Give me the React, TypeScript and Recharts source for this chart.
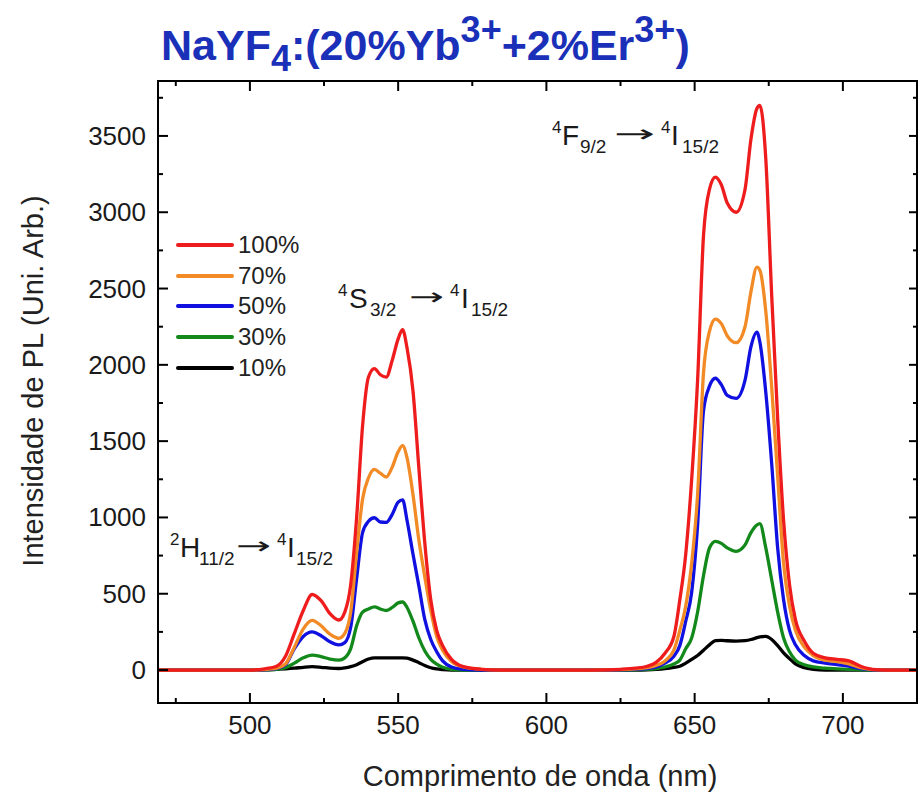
import { LineChart, Line, XAxis, YAxis, Legend } from "recharts"

const FONT = "'Liberation Sans', Arial, sans-serif"

// wavelength (nm)
const wavelength = [
  469, 480, 490, 500, 505, 509, 512, 515, 518, 521,
  524, 527, 530, 532, 534, 536, 538, 540, 542, 544,
  546, 548, 550, 551.5, 553, 555, 557, 559, 561, 563,
  565, 568, 572, 578, 585, 595, 605, 615, 625, 630,
  634, 637, 640, 643, 645, 647, 649, 651, 653, 655,
  657, 659, 661, 664, 667, 669, 671, 672, 674, 676,
  678, 680, 682, 684, 687, 690, 694, 698, 702, 706,
  710, 715, 725,
]

const pl100 = [
  0, 0, 0, 0, 8, 25, 90, 240, 390, 495,
  455, 370, 328, 380, 560, 1000, 1600, 1920, 1975, 1935,
  1920, 2030, 2170, 2230, 2110, 1830, 1320, 830, 460, 260,
  160, 70, 22, 5, 0, 0, 0, 0, 5, 12,
  25, 50, 110, 220, 460, 760, 1250, 1900, 2850, 3150,
  3230, 3180, 3060, 3000, 3150, 3480, 3680, 3700, 3350, 2450,
  1650, 980, 560, 330, 190, 110, 80, 70, 60, 25,
  5, 0, 0,
]

const pl70 = [
  0, 0, 0, 0, 3, 12, 40, 150, 270, 325,
  290, 235, 208, 240, 380, 770, 1120, 1260, 1315, 1290,
  1265, 1330, 1430, 1470, 1390, 1150, 850, 610, 390, 220,
  130, 55, 20, 5, 0, 0, 0, 0, 3, 8,
  15, 30, 60, 130, 260, 420, 700, 1150, 1950, 2220,
  2300, 2270, 2190, 2145, 2250, 2480, 2640, 2620, 2350, 1850,
  1270, 700, 420, 260, 150, 95, 65, 55, 40, 15,
  3, 0, 0,
]

const pl50 = [
  0, 0, 0, 0, 2, 10, 35, 140, 220, 250,
  225, 185, 165, 180, 280, 600, 900, 975, 998, 970,
  968, 1020, 1100, 1115, 980, 760, 550, 330, 200, 120,
  60, 20, 5, 0, 0, 0, 0, 0, 2, 5,
  10, 20, 45, 90, 160, 320, 510, 950, 1700, 1860,
  1912, 1870, 1800, 1780, 1900, 2120, 2215, 2150, 1820, 1350,
  800, 460, 260, 165, 95, 60, 45, 35, 25, 10,
  2, 0, 0,
]

const pl30 = [
  0, 0, 0, 0, 1, 5, 15, 45, 80, 98,
  88, 72, 65, 80, 140, 290, 380, 400, 414, 400,
  390, 410, 440, 446, 410, 320, 210, 125, 70, 38,
  18, 5, 0, 0, 0, 0, 0, 0, 0, 2,
  5, 10, 20, 40, 65, 140, 210, 380, 620, 800,
  843, 830, 800, 778, 820, 900, 950, 960, 800, 590,
  380, 210, 120, 65, 35, 20, 12, 8, 5, 2,
  0, 0, 0,
]

const pl10 = [
  0, 0, 0, 0, 2, 5, 8, 12, 18, 22,
  18, 12, 10, 14, 22, 35, 55, 72, 80, 80,
  80, 80, 80, 80, 78, 65, 48, 30, 15, 7,
  3, 0, 0, 0, 0, 0, 0, 0, 0, 0,
  2, 5, 10, 18, 25, 45, 70, 95, 130, 165,
  192, 195, 192, 190, 193, 200, 212, 218, 220, 200,
  160, 112, 75, 40, 15, 5, 0, 0, 0, 0,
  0, 0, 0,
]

const xTicks = [475, 500, 525, 550, 575, 600, 625, 650, 675, 700, 725]
const yTicks = [0, 250, 500, 750, 1000, 1250, 1500, 1750, 2000, 2250, 2500, 2750, 3000, 3250, 3500, 3750]

// legend order (top to bottom)
const series = [
  { key: "pl100", name: "100%", color: "#ee1c1c" },
  { key: "pl70", name: "70%", color: "#f28a26" },
  { key: "pl50", name: "50%", color: "#1010e0" },
  { key: "pl30", name: "30%", color: "#12891a" },
  { key: "pl10", name: "10%", color: "#000000" },
]

const data = wavelength.map((w, i) => ({
  w,
  pl100: pl100[i],
  pl70: pl70[i],
  pl50: pl50[i],
  pl30: pl30[i],
  pl10: pl10[i],
}))

function BottomTick({ x, y, payload }: any) {
  const major = payload.value % 50 === 0
  return (
    <g>
      <line x1={x} y1={y} x2={x} y2={y - (major ? 10 : 5)} stroke="#000" strokeWidth={2} />
      {major && (
        <text x={x} y={y + 31} textAnchor="middle" fontSize={26} fill="#1a1a1a" fontFamily={FONT}>
          {payload.value}
        </text>
      )}
    </g>
  )
}

function TopTick({ x, y, payload }: any) {
  const major = payload.value % 50 === 0
  return <line x1={x} y1={y} x2={x} y2={y + (major ? 10 : 5)} stroke="#000" strokeWidth={2} />
}

function LeftTick({ x, y, payload }: any) {
  const major = payload.value % 500 === 0
  return (
    <g>
      <line x1={x} y1={y} x2={x + (major ? 10 : 5)} y2={y} stroke="#000" strokeWidth={2} />
      {major && (
        <text x={x - 12} y={y + 9} textAnchor="end" fontSize={26} fill="#1a1a1a" fontFamily={FONT}>
          {payload.value}
        </text>
      )}
    </g>
  )
}

function RightTick({ x, y, payload }: any) {
  const major = payload.value % 500 === 0
  return <line x1={x} y1={y} x2={x - (major ? 8 : 4)} y2={y} stroke="#000" strokeWidth={2} />
}

function LegendBox() {
  return (
    <div style={{ fontFamily: FONT, fontSize: 24, color: "#222" }}>
      {series.map((s) => (
        <div key={s.key} style={{ display: "flex", alignItems: "center", height: 30.6 }}>
          <svg width={58} height={6} style={{ display: "block" }}>
            <line x1={2} y1={3} x2={56} y2={3} stroke={s.color} strokeWidth={4} strokeLinecap="round" />
          </svg>
          <span style={{ marginLeft: 4, lineHeight: "24px" }}>{s.name}</span>
        </div>
      ))}
    </div>
  )
}

const axisLine = { stroke: "#000", strokeWidth: 2, strokeLinecap: "square" as const }

// transition label: superscript, letter, subscript, arrow, superscript, letter, subscript
function Transition({ x, y, parts }: { x: number[]; y: number; parts: string[] }) {
  return (
    <g fill="#1a1a1a">
      <text fontSize={17} x={x[0]} y={y - 12}>{parts[0]}</text>
      <text fontSize={28} x={x[1]} y={y}>{parts[1]}</text>
      <text fontSize={19} x={x[2]} y={y + 8}>{parts[2]}</text>
      <text
        fontSize={24}
        fontFamily="'DejaVu Sans', sans-serif"
        x={x[3]}
        y={y - 3}
        textLength={x[4] - x[3] - 6}
        lengthAdjust="spacingAndGlyphs"
      >
        →
      </text>
      <text fontSize={17} x={x[4]} y={y - 12}>{parts[3]}</text>
      <text fontSize={28} x={x[5]} y={y}>{parts[4]}</text>
      <text fontSize={19} x={x[6]} y={y + 8}>{parts[5]}</text>
    </g>
  )
}

export default function App() {
  return (
    <div style={{ position: "absolute", left: 0, top: 0, width: 922, height: 792, background: "#fff" }}>
      <LineChart width={922} height={792} data={data} margin={{ top: 80, right: 4, bottom: 0, left: 58 }}>
        <XAxis
          dataKey="w"
          type="number"
          domain={[469, 725]}
          allowDataOverflow
          ticks={xTicks}
          interval={0}
          height={89}
          tickSize={0}
          tickMargin={0}
          tickLine={false}
          axisLine={axisLine}
          tick={<BottomTick />}
        />
        <XAxis
          xAxisId="top"
          orientation="top"
          dataKey="w"
          type="number"
          domain={[469, 725]}
          allowDataOverflow
          ticks={xTicks}
          interval={0}
          height={1}
          tickSize={0}
          tickMargin={0}
          tickLine={false}
          axisLine={axisLine}
          tick={<TopTick />}
        />
        <YAxis
          type="number"
          domain={[-216, 3860]}
          allowDataOverflow
          ticks={yTicks}
          interval={0}
          width={100}
          tickSize={0}
          tickMargin={0}
          tickLine={false}
          axisLine={axisLine}
          tick={<LeftTick />}
        />
        <YAxis
          yAxisId="right"
          orientation="right"
          type="number"
          domain={[-216, 3860]}
          allowDataOverflow
          ticks={yTicks}
          interval={0}
          width={1}
          tickSize={0}
          tickMargin={0}
          tickLine={false}
          axisLine={axisLine}
          tick={<RightTick />}
        />
        <Legend
          layout="vertical"
          align="center"
          verticalAlign="middle"
          content={() => <LegendBox />}
          wrapperStyle={{ left: 176, top: 230, width: 160, height: 160 }}
        />
        {[...series].reverse().map((s) => (
          <Line
            key={s.key}
            type="monotone"
            dataKey={s.key}
            name={s.name}
            stroke={s.color}
            strokeWidth={3.3}
            dot={false}
            activeDot={false}
            isAnimationActive={false}
          />
        ))}
      </LineChart>
      <svg
        width={922}
        height={792}
        style={{ position: "absolute", left: 0, top: 0, pointerEvents: "none" }}
        fontFamily={FONT}
      >
        <text x={161} y={60} fontSize={43} fontWeight="bold" fill="#1a30b8">
          NaYF
          <tspan fontSize={36} dy={11}>4</tspan>
          <tspan dy={-11}>:(20%Yb</tspan>
          <tspan fontSize={36} dy={-18}>3+</tspan>
          <tspan dy={18}>+2%Er</tspan>
          <tspan fontSize={36} dy={-18}>3+</tspan>
          <tspan dy={18}>)</tspan>
        </text>

        <text x={540} y={786} textAnchor="middle" fontSize={29} fill="#222">
          Comprimento de onda (nm)
        </text>
        <text x={43} y={381} textAnchor="middle" fontSize={29} fill="#222" transform="rotate(-90 43 381)">
          Intensidade de PL (Uni. Arb.)
        </text>

        <Transition x={[170, 180, 199, 236, 277, 287, 296]} y={557} parts={["2", "H", "11/2", "4", "I", "15/2"]} />
        <Transition x={[338, 349, 370, 409, 450, 461, 471]} y={308} parts={["4", "S", "3/2", "4", "I", "15/2"]} />
        <Transition x={[552, 562, 580, 614, 661, 671, 682]} y={145} parts={["4", "F", "9/2", "4", "I", "15/2"]} />
      </svg>
    </div>
  )
}
